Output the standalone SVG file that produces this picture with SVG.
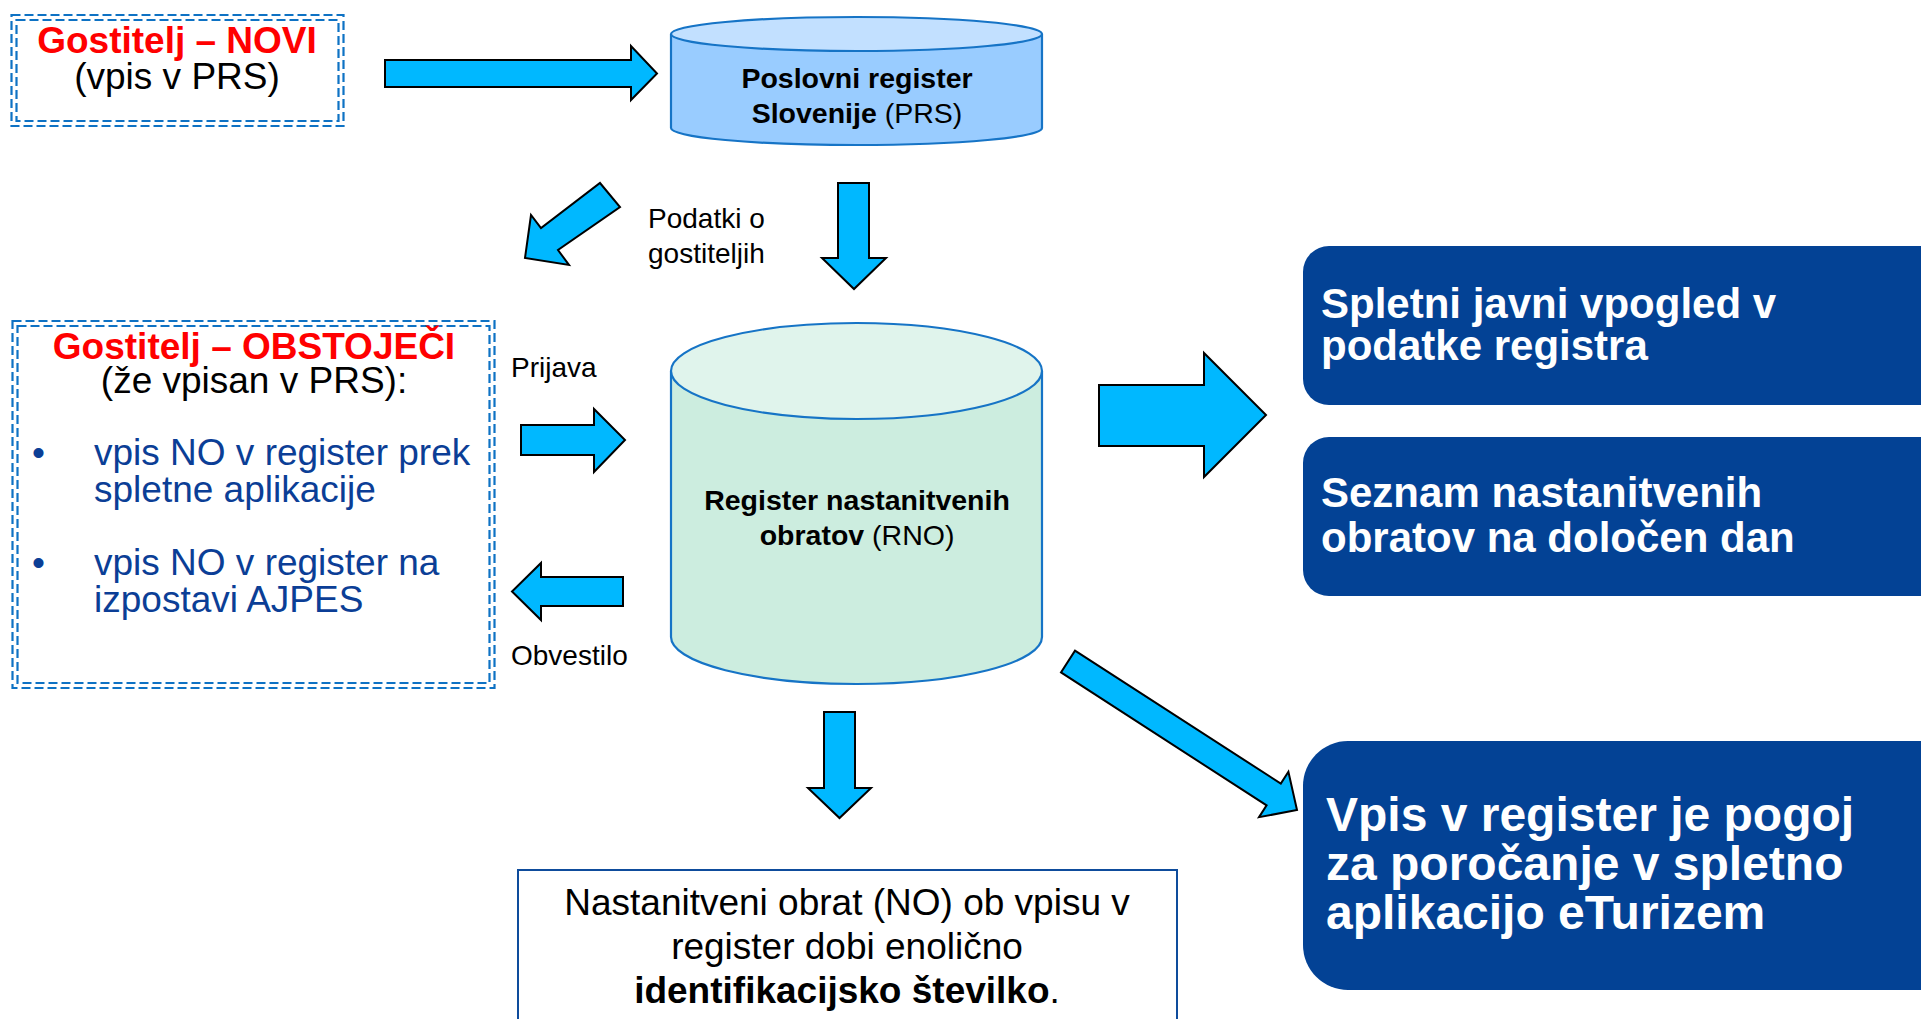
<svg xmlns="http://www.w3.org/2000/svg" width="1921" height="1019" viewBox="0 0 1921 1019">
<style>
.dash{fill:none;stroke:#0E72C4;stroke-width:2.2;stroke-dasharray:9 4}
.arr{fill:#00B8FF;stroke:#000;stroke-width:2;stroke-linejoin:miter}
.cyl{stroke:#1674C6;stroke-width:2.2}
.t{font-family:"Liberation Sans",Arial,sans-serif}
.red{fill:#FF0000;font-weight:bold;font-size:37px}
.blk{fill:#000;font-size:37px}
.blue{fill:#0B3E96;font-size:37px}
.lbl{fill:#000;font-size:28px}
.cy{fill:#000;font-size:28.5px}
.wb{fill:#fff;font-weight:bold}
.rbox{fill:#034295}
</style>
<rect width="1921" height="1019" fill="#fff"/>

<g id="novi">
<rect class="dash" x="11.5" y="15" width="332" height="111"/>
<rect class="dash" x="16.5" y="20" width="322" height="101"/>
<text class="t red" x="177" y="53" text-anchor="middle">Gostitelj – NOVI</text>
<text class="t blk" x="177" y="89" text-anchor="middle">(vpis v PRS)</text>
</g>

<g id="prs">
<path class="cyl" fill="#99CCFF" d="M671,34 V128 A185.5,17 0 0 0 1042,128 V34"/>
<ellipse class="cyl" cx="856.5" cy="34" rx="185.5" ry="17" fill="#C2E0FF"/>
<text class="t cy" x="857" y="88" text-anchor="middle" font-weight="bold">Poslovni register</text>
<text class="t cy" x="857" y="123" text-anchor="middle"><tspan font-weight="bold">Slovenije</tspan> (PRS)</text>
</g>

<g id="obstojeci">
<rect class="dash" x="12.5" y="321" width="482" height="367"/>
<rect class="dash" x="17.5" y="326" width="472" height="357"/>
<text class="t red" x="254" y="359" text-anchor="middle">Gostitelj – OBSTOJEČI</text>
<text class="t blk" x="254" y="393" text-anchor="middle">(že vpisan v PRS):</text>
<text class="t blue" x="32" y="465">•</text>
<text class="t blue" x="94" y="465">vpis NO v register prek</text>
<text class="t blue" x="94" y="502">spletne aplikacije</text>
<text class="t blue" x="32" y="575">•</text>
<text class="t blue" x="94" y="575">vpis NO v register na</text>
<text class="t blue" x="94" y="612">izpostavi AJPES</text>
</g>

<g id="rno">
<path class="cyl" fill="#CCEDDF" d="M671,371 V637 A185.5,47 0 0 0 1042,637 V371"/>
<ellipse class="cyl" cx="856.5" cy="371" rx="185.5" ry="48" fill="#E0F4EC"/>
<text class="t cy" x="857" y="510" text-anchor="middle" font-weight="bold">Register nastanitvenih</text>
<text class="t cy" x="857" y="545" text-anchor="middle"><tspan font-weight="bold">obratov</tspan> (RNO)</text>
</g>

<g id="vpogled">
<rect class="rbox" x="1303" y="246" width="700" height="159" rx="26"/>
<text class="t wb" font-size="42" x="1321" y="318">Spletni javni vpogled v</text>
<text class="t wb" font-size="42" x="1321" y="360">podatke registra</text>
</g>

<g id="seznam">
<rect class="rbox" x="1303" y="437" width="700" height="159" rx="26"/>
<text class="t wb" font-size="42" x="1321" y="507">Seznam nastanitvenih</text>
<text class="t wb" font-size="42" x="1321" y="552">obratov na določen dan</text>
</g>

<g id="eturizem">
<rect class="rbox" x="1303" y="741" width="700" height="249" rx="45"/>
<text class="t wb" font-size="48" x="1326" y="831">Vpis v register je pogoj</text>
<text class="t wb" font-size="48" x="1326" y="880">za poročanje v spletno</text>
<text class="t wb" font-size="48" x="1326" y="929">aplikacijo eTurizem</text>
</g>

<g id="identifikacija">
<rect x="518" y="870" width="659" height="160" fill="#fff" stroke="#0E4C9C" stroke-width="2"/>
<text class="t blk" x="847" y="915" text-anchor="middle">Nastanitveni obrat (NO) ob vpisu v</text>
<text class="t blk" x="847" y="959" text-anchor="middle">register dobi enolično</text>
<text class="t blk" x="847" y="1003" text-anchor="middle"><tspan font-weight="bold">identifikacijsko številko</tspan>.</text>
</g>

<g id="connectors">
<polygon class="arr" points="385,60 631,60 631,46 657,73.5 631,100 631,87 385,87"/>
<polygon class="arr" points="838,183 869,183 869,258 886,258 854,289 822,258 838,258"/>
<polygon class="arr" points="600,183 620,207 558,250 569,265 525,258 531,215 541,228"/>
<polygon class="arr" points="521,425 594,425 594,409 625,440 594,472 594,455 521,455"/>
<polygon class="arr" points="623,577 541,577 541,563 512,591.5 541,620 541,606 623,606"/>
<polygon class="arr" points="1099,385 1204,385 1204,353 1266,415 1204,477 1204,446 1099,446"/>
<polygon class="arr" points="824,712 855,712 855,788 871,788 839.5,818 808,788 824,788"/>
<polygon class="arr" points="1075,650.6 1280.8,783.6 1288.4,771.8 1297,810 1259,817.2 1266.6,805.4 1061,672.4"/>
<text class="t lbl" x="648" y="228">Podatki o</text>
<text class="t lbl" x="648" y="263">gostiteljih</text>
<text class="t lbl" x="511" y="377">Prijava</text>
<text class="t lbl" x="511" y="665">Obvestilo</text>
</g>
</svg>
